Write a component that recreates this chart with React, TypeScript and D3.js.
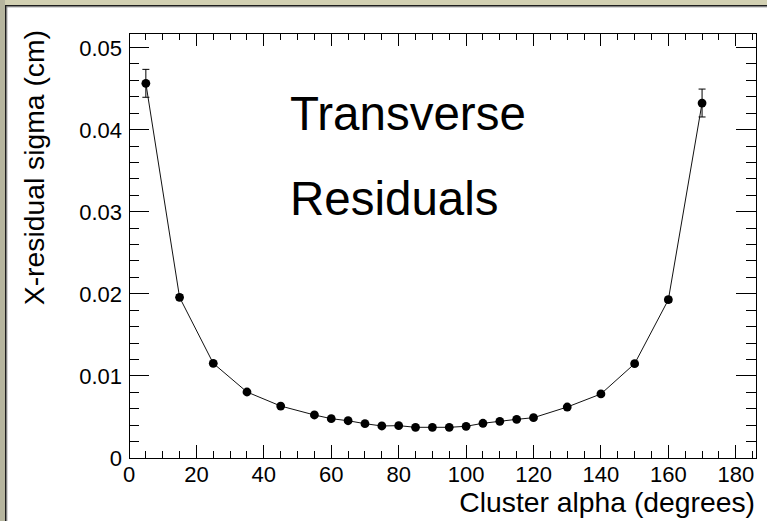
import React from "react";
import * as d3 from "d3";

// Cluster alpha bin centres (degrees)
const alpha = [5, 15, 25, 35, 45, 55, 60, 65, 70, 75, 80, 85, 90, 95, 100, 105, 110, 115, 120, 130, 140, 150, 160, 170];
// Fitted X-residual sigma per bin (cm)
const sigma = [
  0.04564, 0.01957, 0.01153, 0.00804, 0.00633, 0.00524, 0.00479, 0.00454, 0.00418, 0.0039,
  0.00394, 0.00374, 0.00374, 0.00374, 0.00386, 0.00423, 0.00447, 0.00471, 0.00491, 0.00621,
  0.0078, 0.01149, 0.01928, 0.04324,
];
// Uncertainty on sigma (cm)
const sigmaErr = [
  0.0017, 0.0003, 0.0002, 0.0001, 0.0001, 0.0001, 0.0001, 0.0001, 0.0001, 0.0001,
  0.0001, 0.0001, 0.0001, 0.0001, 0.0001, 0.0001, 0.0001, 0.0001, 0.0001, 0.0001,
  0.0001, 0.0002, 0.0003, 0.0017,
];

const xMajor = [0, 20, 40, 60, 80, 100, 120, 140, 160, 180];
const yMajor = [0, 0.01, 0.02, 0.03, 0.04, 0.05];
const yMajorLabels = ["0", "0.01", "0.02", "0.03", "0.04", "0.05"];
const titleLines = ["Transverse", "Residuals"];

const W = 767;
const H = 521;
const left = 129;
const right = 756;
const top = 33;
const bottom = 458;
const font = "'Liberation Sans', Arial, Helvetica, sans-serif";

export default function App() {
  const x = d3.scaleLinear().domain([0, 186]).range([left, right]);
  const y = d3.scaleLinear().domain([0, 0.05177]).range([bottom, top]);

  const xMinor = d3.range(0, 186, 5).filter((v) => v % 20 !== 0);
  const yMinor = d3.range(0, 0.0518, 0.002).filter((v) => Math.abs(v / 0.01 - Math.round(v / 0.01)) > 1e-6);

  const line = d3
    .line<number>()
    .x((_, i) => x(alpha[i]))
    .y((d) => y(d));

  const tk = { stroke: "#000", strokeWidth: 1, shapeRendering: "crispEdges" as const };

  return (
    <svg
      width={W}
      height={H}
      style={{ position: "absolute", left: 0, top: 0, display: "block" }}
      fontFamily={font}
    >
      {/* canvas background and bevelled border */}
      <rect x={0} y={0} width={W} height={H} fill="#ffffff" />
      <rect x={0} y={0} width={W} height={5} fill="#d2d0b2" />
      <rect x={0} y={0} width={5} height={H} fill="#b6b59e" />
      <rect x={5} y={5} width={W} height={1.5} fill="#1e1e1e" />
      <rect x={5} y={5} width={1.5} height={H} fill="#1e1e1e" />
      <rect x={6.5} y={6.5} width={W} height={0.8} fill="#777" />
      <rect x={6.5} y={6.5} width={0.8} height={H} fill="#777" />

      {/* frame */}
      <rect x={left} y={top} width={right - left} height={bottom - top} fill="none" {...tk} />

      {/* x ticks, bottom and top */}
      {xMajor.map((v) => (
        <g key={"xm" + v}>
          <line x1={x(v)} x2={x(v)} y1={bottom} y2={bottom - 13} {...tk} />
          <line x1={x(v)} x2={x(v)} y1={top} y2={top + 13} {...tk} />
          <text x={x(v)} y={482} fontSize={22} textAnchor="middle">
            {v}
          </text>
        </g>
      ))}
      {xMinor.map((v) => (
        <g key={"xn" + v}>
          <line x1={x(v)} x2={x(v)} y1={bottom} y2={bottom - 7} {...tk} />
          <line x1={x(v)} x2={x(v)} y1={top} y2={top + 7} {...tk} />
        </g>
      ))}

      {/* y ticks, left and right */}
      {yMajor.map((v, i) => (
        <g key={"ym" + v}>
          <line x1={left} x2={left + 20} y1={y(v)} y2={y(v)} {...tk} />
          <line x1={right} x2={right - 20} y1={y(v)} y2={y(v)} {...tk} />
          <text x={122} y={y(v) + 8} fontSize={22} textAnchor="end">
            {yMajorLabels[i]}
          </text>
        </g>
      ))}
      {yMinor.map((v) => (
        <g key={"yn" + v}>
          <line x1={left} x2={left + 10} y1={y(v)} y2={y(v)} {...tk} />
          <line x1={right} x2={right - 10} y1={y(v)} y2={y(v)} {...tk} />
        </g>
      ))}

      {/* axis titles */}
      <text x={755} y={512} fontSize={28.3} textAnchor="end">
        Cluster alpha (degrees)
      </text>
      <text transform="translate(44,30) rotate(-90)" fontSize={28.3} textAnchor="end">
        X-residual sigma (cm)
      </text>

      {/* connecting line */}
      <path d={line(sigma) ?? ""} fill="none" stroke="#111" strokeWidth={1} />

      {/* error bars */}
      {sigma.map((s, i) => (
        <g key={"e" + i} stroke="#000" strokeWidth={1}>
          <line x1={x(alpha[i])} x2={x(alpha[i])} y1={y(s - sigmaErr[i])} y2={y(s + sigmaErr[i])} />
          <line x1={x(alpha[i]) - 3.5} x2={x(alpha[i]) + 3.5} y1={y(s + sigmaErr[i])} y2={y(s + sigmaErr[i])} />
          <line x1={x(alpha[i]) - 3.5} x2={x(alpha[i]) + 3.5} y1={y(s - sigmaErr[i])} y2={y(s - sigmaErr[i])} />
        </g>
      ))}

      {/* markers */}
      {sigma.map((s, i) => (
        <circle key={"p" + i} cx={x(alpha[i])} cy={y(s)} r={4.4} fill="#000" />
      ))}

      {/* annotation */}
      <text x={290} y={130} fontSize={47.5}>
        {titleLines[0]}
      </text>
      <text x={290} y={215} fontSize={47.5}>
        {titleLines[1]}
      </text>
    </svg>
  );
}
